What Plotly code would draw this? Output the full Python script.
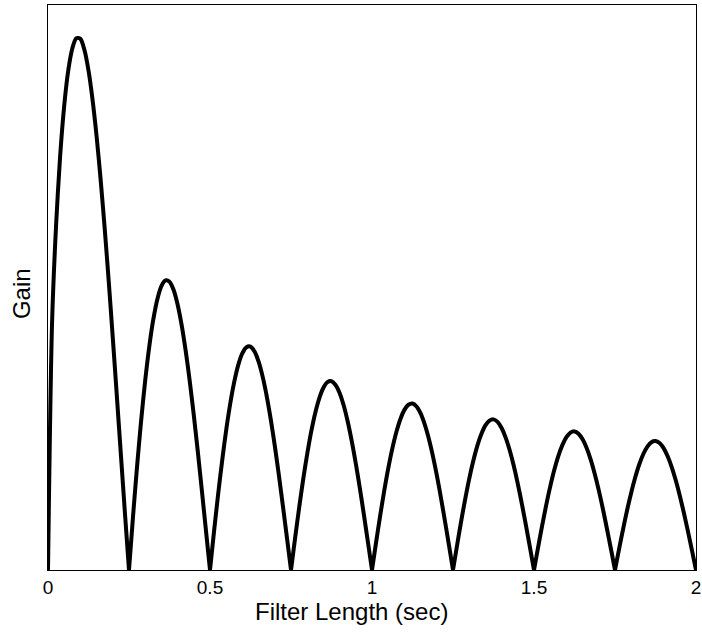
import plotly.graph_objects as go

# Filter length (sec), sampled every 0.0125 s
filter_length = [round(k * 0.0125, 4) for k in range(161)]

# Gain (arbitrary units)
gain = [
    0.000, 1.399, 1.955, 2.345, 2.629, 2.829, 2.954, 3.012, 3.008, 2.945,
    2.829, 2.664, 2.456, 2.210, 1.934, 1.633, 1.314, 0.985, 0.652, 0.321,
    0.000, 0.305, 0.589, 0.847, 1.073, 1.265, 1.419, 1.534, 1.608, 1.640,
    1.633, 1.587, 1.504, 1.387, 1.241, 1.069, 0.876, 0.668, 0.448, 0.224,
    0.000, 0.219, 0.427, 0.619, 0.793, 0.943, 1.067, 1.163, 1.228, 1.262,
    1.265, 1.237, 1.180, 1.095, 0.985, 0.853, 0.703, 0.538, 0.363, 0.182,
    0.000, 0.179, 0.351, 0.512, 0.657, 0.785, 0.891, 0.974, 1.032, 1.064,
    1.069, 1.048, 1.003, 0.933, 0.841, 0.730, 0.603, 0.463, 0.313, 0.157,
    0.000, 0.155, 0.305, 0.446, 0.574, 0.686, 0.780, 0.854, 0.907, 0.936,
    0.943, 0.926, 0.887, 0.826, 0.746, 0.649, 0.537, 0.412, 0.279, 0.141,
    0.000, 0.139, 0.274, 0.400, 0.516, 0.617, 0.703, 0.770, 0.819, 0.846,
    0.853, 0.839, 0.804, 0.750, 0.678, 0.590, 0.488, 0.375, 0.254, 0.128,
    0.000, 0.127, 0.250, 0.366, 0.472, 0.566, 0.645, 0.707, 0.752, 0.778,
    0.785, 0.772, 0.740, 0.691, 0.625, 0.544, 0.451, 0.347, 0.235, 0.119,
    0.000, 0.118, 0.232, 0.340, 0.438, 0.525, 0.599, 0.657, 0.699, 0.724,
    0.730, 0.719, 0.690, 0.644, 0.583, 0.508, 0.421, 0.324, 0.220, 0.111,
    0.000,
]

# indices where the gain touches zero (lobe boundaries)
lobe_edges = [0, 20, 40, 60, 80, 100, 120, 140, 160]

x_tick_vals = [0, 0.5, 1, 1.5, 2]
x_tick_text = ["0", "0.5", "1", "1.5", "2"]

x_title = "Filter Length (sec)"
y_title = "Gain"

# one line with gaps between lobes so each lobe is smoothed on its own
xs, ys = [], []
for a, b in zip(lobe_edges[:-1], lobe_edges[1:]):
    xs += filter_length[a:b + 1] + [None]
    ys += gain[a:b + 1] + [None]

fig = go.Figure()
fig.add_trace(go.Scatter(
    x=xs, y=ys, mode="lines", connectgaps=False,
    line=dict(color="black", width=4, shape="spline", smoothing=0.8),
    showlegend=False, hoverinfo="skip",
))

font_family = "Liberation Sans, Arial, sans-serif"
fig.update_layout(
    width=702, height=636,
    margin=dict(l=48, r=6, t=5, b=66, autoexpand=False),
    paper_bgcolor="white", plot_bgcolor="white",
    font=dict(family=font_family, color="black", size=19),
    xaxis=dict(
        range=[0, 2], tickvals=x_tick_vals, ticktext=x_tick_text,
        showgrid=False, zeroline=False, showline=True, mirror=True,
        linecolor="black", linewidth=1, ticks="", automargin=False,
        tickfont=dict(size=19), ticklabeloverflow="allow",
    ),
    yaxis=dict(
        range=[0, 3.2], showticklabels=False,
        showgrid=False, zeroline=False, showline=True, mirror=True,
        linecolor="black", linewidth=1, ticks="", automargin=False,
    ),
    annotations=[
        dict(text=x_title, xref="paper", yref="paper", x=0.469, y=-0.074,
             xanchor="center", yanchor="middle", showarrow=False,
             font=dict(size=24, family=font_family, color="black")),
        dict(text=y_title, xref="paper", yref="paper", x=-0.040, y=0.4885,
             xanchor="center", yanchor="middle", showarrow=False, textangle=-90,
             font=dict(size=24, family=font_family, color="black")),
    ],
)

fig.write_html("out.html")
